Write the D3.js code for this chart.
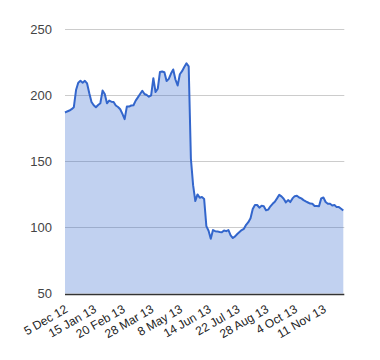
<!DOCTYPE html>
<html>
<head>
<meta charset="utf-8">
<script src="https://cdn.jsdelivr.net/npm/d3@7"></script>
<style>
  html, body { margin: 0; padding: 0; background: #fff; }
  svg { display: block; font-family: Arial, "Liberation Sans", sans-serif; }
</style>
</head>
<body>
<svg id="chart" width="380" height="360"></svg>
<script>
// ---- data ----
const values = [
  187, 187.8, 188.5, 189.5, 191, 204, 209.5, 211, 209.6, 211,
  209, 201.6, 195, 192.5, 191, 192.7, 194, 203.6, 201, 194,
  196, 195.2, 195, 192.3, 191.2, 189.5, 186, 182, 191.5, 191.5,
  192.3, 192.5, 196, 198.5, 201, 203.5, 201, 200.3, 199, 200,
  213, 202.5, 205, 217.7, 218, 217.5, 210.8, 212.5, 216.5, 219.6,
  212, 207.5, 216, 218.3, 221.5, 224.2, 222, 152, 132, 120,
  125, 122.5, 123, 121.5, 101, 97.5, 91.5, 98, 97.2, 97,
  96.5, 96.3, 97.7, 97.2, 98, 94, 92, 93.2, 95, 96.5,
  98, 99, 102, 104, 107, 114, 117, 117, 115, 116.5,
  116, 113, 113.5, 116, 117.9, 119.5, 122, 124.7, 123.5, 121.7,
  119, 120.7, 119.2, 122, 123.7, 124, 122.7, 122, 120.7, 119.7,
  118.9, 118.1, 117.9, 116.3, 116.2, 116, 122, 122.7, 119.3, 118,
  117.9, 116.6, 117, 115.4, 115.4, 114.2, 112.8
];
const tickLabels = ["5 Dec 12", "15 Jan 13", "20 Feb 13", "28 Mar 13", "8 May 13",
                    "14 Jun 13", "22 Jul 13", "28 Aug 13", "4 Oct 13", "11 Nov 13"];
const labelEvery = 13;
const yTicks = [50, 100, 150, 200, 250];

// ---- layout ----
const svg = d3.select("#chart");
const mLeft = 65, mRight = 343.3, mTop = 29.3, mBottom = 293.5;

const x = d3.scaleLinear().domain([0, values.length - 1]).range([mLeft, mRight]);
const y = d3.scaleLinear().domain([50, 250]).range([mBottom, mTop]);

// gridlines
svg.append("g").selectAll("line").data(yTicks.filter(d => d !== 50)).join("line")
  .attr("x1", mLeft).attr("x2", mRight + 1)
  .attr("y1", d => Math.round(y(d)) + 0.5).attr("y2", d => Math.round(y(d)) + 0.5)
  .attr("stroke", "#cccccc").attr("stroke-width", 1);

// area
const area = d3.area().x((d, i) => x(i)).y0(y(50)).y1(d => y(d));
svg.append("path").datum(values).attr("d", area)
  .attr("fill", "#3366cc").attr("fill-opacity", 0.3);

// line
const line = d3.line().x((d, i) => x(i)).y(d => y(d));
svg.append("path").datum(values).attr("d", line)
  .attr("fill", "none").attr("stroke", "#3366cc").attr("stroke-width", 2)
  .attr("stroke-linejoin", "round");

// baseline
svg.append("line").attr("x1", mLeft).attr("x2", mRight + 1)
  .attr("y1", Math.round(y(50)) + 0.5).attr("y2", Math.round(y(50)) + 0.5)
  .attr("stroke", "#333333").attr("stroke-width", 1.5);

// y axis labels
const yAxis = d3.axisLeft(y).tickValues(yTicks).tickSize(0).tickPadding(13);
const gy = svg.append("g").attr("transform", `translate(${mLeft},0)`).call(yAxis);
gy.select(".domain").remove();
gy.selectAll("text").attr("font-size", 13).attr("fill", "#444444")
  .attr("font-family", "Arial, 'Liberation Sans', sans-serif");

// x axis labels
const tickIdx = tickLabels.map((d, k) => k * labelEvery);
const xAxis = d3.axisBottom(x).tickValues(tickIdx)
  .tickFormat((d, k) => tickLabels[k]).tickSize(0).tickPadding(0);
const gx = svg.append("g").attr("transform", `translate(0,${mBottom})`).call(xAxis);
gx.select(".domain").remove();
gx.selectAll("text")
  .attr("font-size", 12).attr("fill", "#222222")
  .attr("font-family", "Arial, 'Liberation Sans', sans-serif")
  .attr("text-anchor", "end")
  .attr("dy", null).attr("y", 0)
  .attr("transform", "translate(3,18) rotate(-30)");
</script>
</body>
</html>
